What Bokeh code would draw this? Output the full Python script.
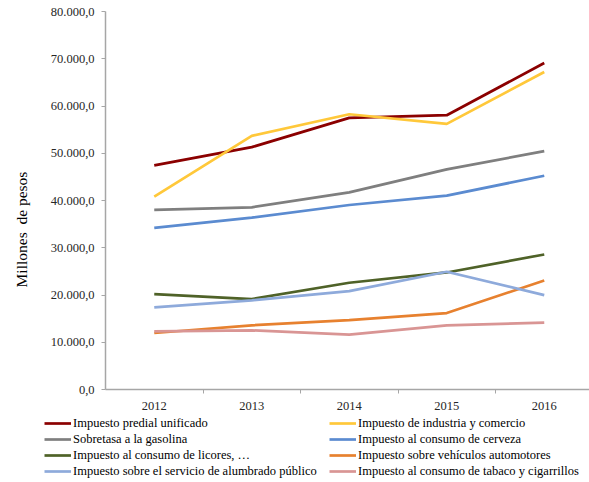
from bokeh.plotting import figure
from bokeh.models import Range1d, FixedTicker, Legend, LegendItem
from bokeh.embed import file_html
from bokeh.resources import INLINE

years = [2012, 2013, 2014, 2015, 2016]
year_labels = ["2012", "2013", "2014", "2015", "2016"]
y_ticks = [0, 10000, 20000, 30000, 40000, 50000, 60000, 70000, 80000]
y_tick_labels = ["0,0", "10.000,0", "20.000,0", "30.000,0", "40.000,0",
                 "50.000,0", "60.000,0", "70.000,0", "80.000,0"]

predial = [47430, 51290, 57480, 58050, 69090]
industria = [40800, 53680, 58260, 56210, 67190]
gasolina = [38000, 38560, 41730, 46580, 50450]
cerveza = [34200, 36370, 39050, 41020, 45240]
licores = [20200, 19140, 22590, 24770, 28570]
vehiculos = [11960, 13580, 14700, 16180, 23080]
alumbrado = [17380, 18860, 20830, 24910, 19980]
tabaco = [12310, 12520, 11610, 13580, 14140]

names = ["Impuesto predial unificado", "Impuesto de industria y comercio",
         "Sobretasa a la gasolina", "Impuesto al consumo de cerveza",
         "Impuesto al consumo de licores, \u2026", "Impuesto sobre vehículos automotores",
         "Impuesto sobre el servicio de alumbrado público",
         "Impuesto al consumo de tabaco y cigarrillos"]
series = [predial, industria, gasolina, cerveza, licores, vehiculos, alumbrado, tabaco]
colors = ["#8B0000", "#FFC83A", "#7F7F7F", "#5B8BD0", "#4F6228", "#E7812F",
          "#8EAADB", "#D99594"]

FONT = "Liberation Serif"
LW = 2.7

p = figure(width=589, height=412, output_backend="svg", toolbar_location=None,
           x_range=Range1d(2011.5, 2016.464), y_range=Range1d(0, 80000),
           min_border_left=105, min_border_right=0, min_border_top=11,
           min_border_bottom=22)
p.outline_line_color = None
p.grid.visible = False

for s, c in zip(series, colors):
    p.line(years, s, line_color=c, line_width=LW)

xa = p.xaxis[0]
xa.ticker = FixedTicker(ticks=years, minor_ticks=[y + 0.5 for y in years])
xa.major_label_overrides = {y: l for y, l in zip(years, year_labels)}
xa.major_tick_out = 0
xa.major_tick_in = 0
xa.minor_tick_out = 4
xa.minor_tick_in = 0
xa.minor_tick_line_color = "#A6A6A6"
xa.axis_line_color = "#A6A6A6"
xa.axis_line_width = 1.5
xa.major_label_text_font = FONT
xa.major_label_text_font_size = "12.5px"
xa.major_label_text_color = "#262626"
xa.major_label_standoff = 8

ya = p.yaxis[0]
ya.ticker = FixedTicker(ticks=y_ticks)
ya.major_label_overrides = {v: l for v, l in zip(y_ticks, y_tick_labels)}
ya.major_tick_out = 4
ya.major_tick_in = 0
ya.major_tick_line_color = "#A6A6A6"
ya.minor_tick_line_color = None
ya.axis_line_color = "#A6A6A6"
ya.axis_line_width = 1.5
ya.major_label_text_font = FONT
ya.major_label_text_font_size = "12.5px"
ya.major_label_text_color = "#262626"
ya.major_label_standoff = 7
ya.axis_label = "Millones\u00a0 de pesos" + "\u00a0" * 15
ya.axis_label_text_font = FONT
ya.axis_label_text_font_style = "normal"
ya.axis_label_text_font_size = "15.5px"
ya.axis_label_text_color = "#000000"
ya.axis_label_standoff = 18

# legend in its own small figure below the chart (separate root, no alignment)
lf = figure(width=589, height=70, output_backend="svg", toolbar_location=None,
            x_range=Range1d(0, 1), y_range=Range1d(0, 1),
            x_axis_location=None, y_axis_location=None,
            min_border_left=0, min_border_right=0, min_border_top=0,
            min_border_bottom=0)
lf.outline_line_color = None
lf.grid.visible = False
# same series, outside this figure's ranges: only their legend glyphs show
lrs = [lf.line(years, s, line_color=c, line_width=LW) for s, c in zip(series, colors)]


def make_legend(idx, x):
    items = [LegendItem(label=names[i], renderers=[lrs[i]]) for i in idx]
    return Legend(items=items, location=(x, 3), orientation="vertical",
                  padding=0, margin=0, spacing=0, border_line_color=None,
                  background_fill_alpha=0, glyph_width=27, glyph_height=16,
                  label_height=16, label_standoff=2,
                  label_text_font=FONT, label_text_font_size="12.5px",
                  label_text_color="#000000")


lf.add_layout(make_legend([0, 2, 4, 6], 44), "center")
lf.add_layout(make_legend([1, 3, 5, 7], 329), "center")

open("out.html", "w").write(file_html([p, lf], INLINE))
